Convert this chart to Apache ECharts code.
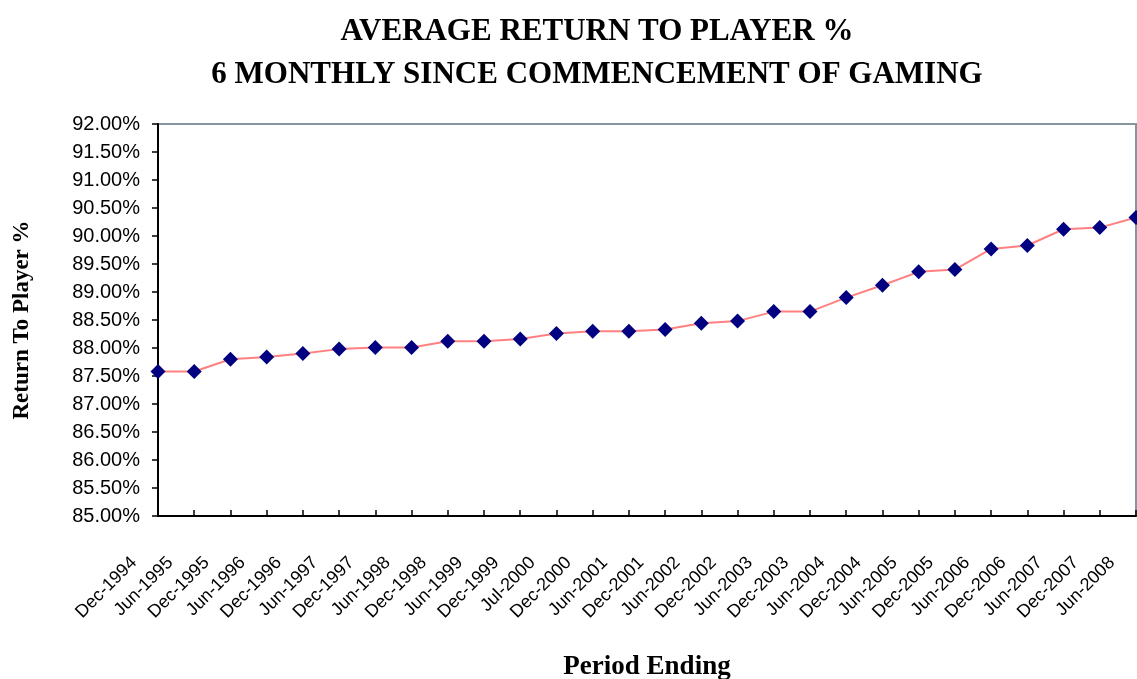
<!DOCTYPE html>
<html>
<head>
<meta charset="utf-8">
<script src="https://cdn.jsdelivr.net/npm/echarts@6/dist/echarts.min.js"></script>
<style>
  html, body { margin: 0; padding: 0; background: #ffffff; }
  #chart { width: 1137px; height: 679px; }
</style>
</head>
<body>
<div id="chart"></div>
<script>
const titleLine1 = 'AVERAGE RETURN TO PLAYER %';
const titleLine2 = '6 MONTHLY SINCE COMMENCEMENT OF GAMING';
const xAxisTitle = 'Period Ending';
const yAxisTitle = 'Return To Player %';

const periods = [
  'Dec-1994', 'Jun-1995', 'Dec-1995', 'Jun-1996', 'Dec-1996', 'Jun-1997', 'Dec-1997',
  'Jun-1998', 'Dec-1998', 'Jun-1999', 'Dec-1999', 'Jul-2000', 'Dec-2000', 'Jun-2001',
  'Dec-2001', 'Jun-2002', 'Dec-2002', 'Jun-2003', 'Dec-2003', 'Jun-2004', 'Dec-2004',
  'Jun-2005', 'Dec-2005', 'Jun-2006', 'Dec-2006', 'Jun-2007', 'Dec-2007', 'Jun-2008'
];

const returnToPlayer = [
  87.58, 87.58, 87.80, 87.84, 87.90, 87.98, 88.01,
  88.01, 88.12, 88.12, 88.16, 88.26, 88.30, 88.30,
  88.33, 88.44, 88.48, 88.65, 88.65, 88.90, 89.12,
  89.36, 89.40, 89.77, 89.83, 90.12, 90.15, 90.33
];

const yMin = 85;
const yMax = 92;
const yStep = 0.5;

const chart = echarts.init(document.getElementById('chart'), null, { renderer: 'canvas' });

const option = {
  backgroundColor: '#ffffff',
  animation: false,
  title: [
    {
      text: titleLine1,
      left: 597, top: 16, textAlign: 'center', padding: 0,
      textStyle: { fontFamily: 'Liberation Serif', fontWeight: 'bold', fontSize: 31, color: '#000' }
    },
    {
      text: titleLine2,
      left: 597, top: 59, textAlign: 'center', padding: 0,
      textStyle: { fontFamily: 'Liberation Serif', fontWeight: 'bold', fontSize: 31, color: '#000' }
    }
  ],
  grid: [
    { left: 158, right: 1, top: 124, bottom: 163, show: true, borderColor: '#87959e', borderWidth: 2,
      backgroundColor: 'transparent', containLabel: false, outerBoundsMode: 'none' },
    { left: 134, right: 25, top: 124, bottom: 163, show: false, containLabel: false, outerBoundsMode: 'none' }
  ],
  xAxis: [
    {
      type: 'category', gridIndex: 0, data: periods, boundaryGap: false,
      axisLine: { show: true, lineStyle: { color: '#000', width: 2 } },
      axisTick: { show: true, inside: true, length: 6, interval: 0, lineStyle: { color: '#000', width: 1.5 } },
      axisLabel: { show: false },
      splitLine: { show: false },
      name: xAxisTitle, nameLocation: 'middle', nameGap: 138,
      nameTextStyle: { fontFamily: 'Liberation Serif', fontWeight: 'bold', fontSize: 27, color: '#000' }
    },
    {
      type: 'category', gridIndex: 1, data: periods, boundaryGap: false,
      axisLine: { show: false }, axisTick: { show: false }, splitLine: { show: false },
      axisLabel: {
        show: true, interval: 0, rotate: 45, margin: 44,
        fontFamily: 'Liberation Sans', fontSize: 18, color: '#000'
      }
    }
  ],
  yAxis: [
    {
      type: 'value', gridIndex: 0, min: yMin, max: yMax, interval: yStep,
      axisLine: { show: true, lineStyle: { color: '#000', width: 2 } },
      axisTick: { show: true, inside: false, length: 6, lineStyle: { color: '#000', width: 1.5 } },
      axisLabel: {
        margin: 18, fontFamily: 'Liberation Sans', fontSize: 20, color: '#000',
        formatter: v => v.toFixed(2) + '%'
      },
      splitLine: { show: false },
      name: yAxisTitle, nameLocation: 'middle', nameGap: 124, nameRotate: 90,
      nameTextStyle: { fontFamily: 'Liberation Serif', fontWeight: 'bold', fontSize: 23, color: '#000' }
    },
    {
      type: 'value', gridIndex: 1, min: yMin, max: yMax, show: false
    }
  ],
  series: [
    {
      type: 'line', xAxisIndex: 0, yAxisIndex: 0,
      data: returnToPlayer,
      symbol: 'diamond', symbolSize: 15,
      itemStyle: { color: '#000080' },
      lineStyle: { color: '#ff8080', width: 2 },
      z: 5
    }
  ]
};

chart.setOption(option);
</script>
</body>
</html>
